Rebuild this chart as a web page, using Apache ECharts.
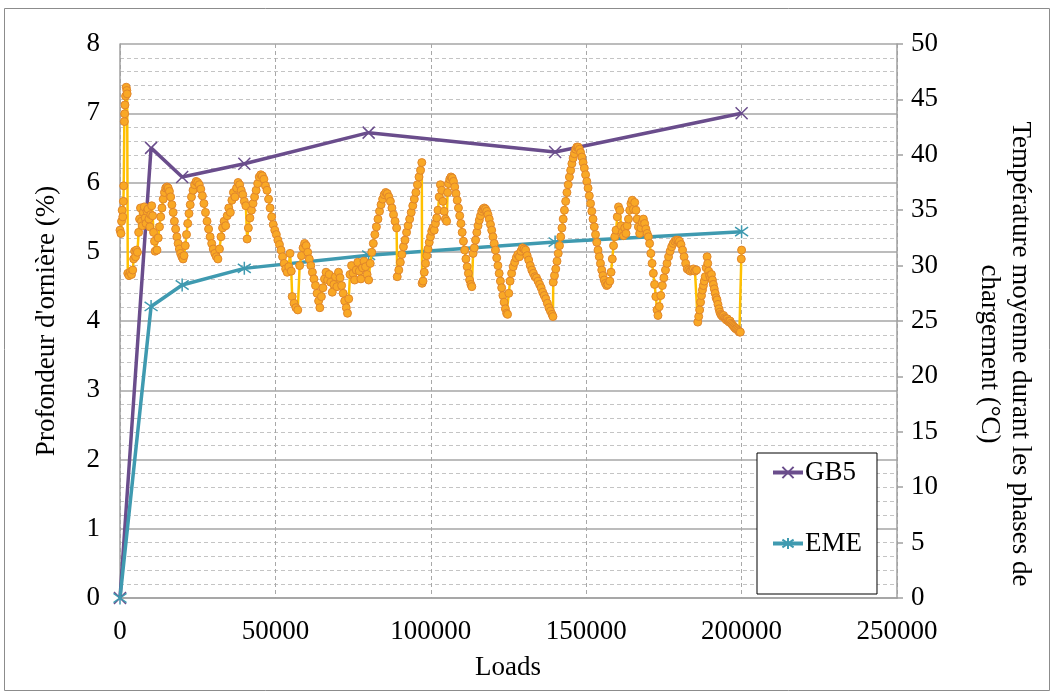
<!DOCTYPE html>
<html>
<head>
<meta charset="utf-8">
<script src="https://cdn.jsdelivr.net/npm/echarts@6/dist/echarts.min.js"></script>
<style>
  html, body { margin: 0; padding: 0; background: #fff; }
  #chart { width: 1052px; height: 695px; }
</style>
</head>
<body>
<div id="chart"></div>
<script>
// loads at which rut depth was measured
const rutLoads = [0, 10000, 20000, 40000, 80000, 140000, 200000];
const gb5Values = [0, 6.5, 6.08, 6.27, 6.72, 6.44, 7.0];
const emeValues = [0, 4.21, 4.52, 4.76, 4.95, 5.14, 5.29];

// mean temperature during loading phases, [loads, °C]
const tempPoints = [
  [0,33.2],[300,32.9],[500,34.0],[700,35.0],[900,34.4],[1100,35.8],[1200,37.2],[1400,43.0],[1500,43.7],[1600,44.5],[1800,45.3],[2000,46.1],[2200,45.8],[2300,45.5],
  [2500,29.3],[2900,29.1],[3300,29.4],[3700,29.2],[4100,29.6],[4400,30.6],[4700,31.3],[5000,30.8],[5300,31.4],[5600,31.2],
  [6000,33.0],[6300,34.2],[6600,35.2],[6900,34.0],[7200,33.6],[7500,34.8],[7800,35.3],[8100,34.3],[8400,33.8],[8700,34.9],[9000,35.1],[9300,34.2],[9600,33.5],[9900,34.6],[10200,35.4],[10500,34.5],[10800,33.0],[11100,32.2],[11300,31.3],
  [11900,31.4],[12300,32.5],[12700,33.5],[13100,34.4],[13500,35.2],[13900,36.0],[14300,36.6],[14700,37.0],[15100,37.1],[15500,37.0],[15900,36.7],
  [16300,36.2],[16700,35.5],[17100,34.8],[17500,34.0],[17900,33.3],[18300,32.6],[18700,32.0],[19100,31.5],[19500,31.1],[19900,30.8],[20300,30.6],[20600,30.9],
  [21000,31.8],[21400,32.8],[21800,33.8],[22200,34.7],[22600,35.5],[23000,36.2],[23500,36.8],[24000,37.3],[24500,37.6],[25000,37.5],[25500,37.3],
  [26000,36.9],[26500,36.3],[27000,35.6],[27500,34.8],[28000,34.0],[28500,33.3],[29000,32.6],[29500,32.0],[30000,31.5],[30500,31.1],[31000,30.8],[31500,30.6],
  [32000,31.5],[32500,32.6],[33000,33.4],[33500,34.0],[34000,33.6],[34500,34.5],[35000,35.2],[35500,34.8],[36000,35.9],[36500,36.6],[37000,36.2],[37500,37.0],[38000,37.5],[38500,37.3],
  [39000,36.8],[39500,36.4],[40000,35.8],[40500,35.4],[40900,32.4],
  [41300,33.4],[41800,34.3],[42300,35.0],[42800,35.6],[43300,36.2],[43800,36.8],[44300,37.4],[44800,38.0],[45300,38.2],[45800,38.1],[46300,37.8],[46800,37.2],
  [47300,36.8],[47800,36.0],[48300,35.2],[48800,34.4],[49300,33.7],[49800,33.2],[50300,32.8],[50800,32.3],[51300,31.9],[51800,31.4],[52300,30.8],
  [52800,30.2],[53300,29.7],[53800,29.4],[54300,29.9],[54700,31.1],[55100,29.5],[55400,27.2],[56000,26.6],[56600,26.2],[57200,26.0],
  [57800,30.0],[58400,30.9],[58900,31.6],[59400,32.0],[59900,31.8],[60400,31.2],
  [60900,30.6],[61400,30.0],[61900,29.4],[62400,28.8],[62900,28.2],[63400,27.5],[63900,26.8],[64300,26.2],
  [64800,27.2],[65300,28.0],[65800,28.8],[66300,29.4],[66800,28.7],[67300,29.2],[67800,28.5],
  [68300,27.6],[68800,28.3],[69300,29.0],[69800,28.1],[70300,29.4],
  [70800,28.9],[71300,28.2],[71800,27.5],[72300,26.8],[72800,26.2],[73200,25.7],[73600,27.0],
  [74000,29.2],[74500,30.0],[75000,29.3],[75500,28.7],[76000,29.6],[76500,30.3],[77000,29.5],[77500,28.8],[78000,29.8],[78500,30.4],[79000,29.9],[79500,29.2],
  [80000,28.7],[80500,30.2],[81000,31.2],[81500,32.0],[82000,32.8],[82500,33.5],[83000,34.2],[83500,34.9],[84000,35.5],[84500,36.0],[85000,36.4],[85500,36.6],[86000,36.5],
  [86500,36.2],[87000,35.8],[87500,35.2],[88000,34.6],[88500,34.0],[89000,33.4],[89200,29.0],
  [89700,29.6],[90200,30.3],[90700,31.0],[91200,31.7],[91700,32.3],[92200,33.0],[92700,33.6],[93200,34.2],[93700,34.8],[94200,35.4],[94700,36.0],[95200,36.6],[95700,37.3],[96200,38.0],[96700,38.6],[97100,39.3],
  [97200,28.4],
  [97500,28.6],[97900,29.4],[98300,30.2],[98700,30.9],[99100,31.5],[99500,32.1],[99900,32.6],[100300,33.1],[100700,33.4],[101100,33.2],[101500,33.8],[101900,34.3],
  [102300,35.0],[102700,36.2],[103100,37.3],[103500,36.8],[103900,35.8],[104300,34.9],[104700,34.2],[105100,34.0],[105400,36.6],
  [105700,37.4],[106100,37.8],[106500,38.0],[106900,37.9],[107300,37.6],
  [107700,37.1],[108100,36.5],[108500,35.9],[108900,35.2],[109300,34.5],[109700,33.8],[110100,33.0],[110500,32.2],[110900,31.4],[111300,30.6],[111700,29.9],[112100,29.3],[112500,28.7],[112900,28.3],[113200,28.1],
  [113600,31.1],[114000,31.6],[114400,32.3],[114800,33.0],[115200,33.6],[115600,34.1],[116000,34.5],[116400,34.9],[116800,35.1],[117200,35.2],[117600,35.1],
  [118000,34.9],[118400,34.6],[118800,34.2],[119200,33.7],[119600,33.2],[120000,32.6],[120400,32.0],[120800,31.4],[121200,30.7],[121600,30.0],[122000,29.3],[122400,28.6],[122800,28.0],[123200,27.3],[123600,26.7],[124000,26.1],[124400,25.7],[124700,25.6],
  [125100,27.5],[125500,28.6],[126000,29.3],[126500,29.9],[127000,30.3],[127500,30.7],[128000,31.0],[128500,30.8],[129000,31.3],[129500,31.6],[130000,31.5],[130500,31.4],
  [131000,30.9],[131500,30.5],[132000,30.0],[132500,29.6],[133000,29.3],[133500,29.0],[134000,28.9],[134500,28.6],[135000,28.3],[135500,28.0],[136000,27.6],[136500,27.3],[137000,27.0],[137500,26.6],[138000,26.2],[138500,25.9],[139000,25.6],[139300,25.4],
  [139400,28.5],[139800,29.1],[140200,29.7],[140600,30.4],[141000,31.1],[141400,31.8],[141800,32.6],[142200,33.4],[142600,34.2],[143000,35.0],[143400,35.8],[143800,36.6],[144200,37.3],[144600,38.0],[145000,38.6],[145400,39.2],[145800,39.7],[146200,40.1],[146600,40.5],[147000,40.7],[147400,40.7],[147800,40.5],
  [148200,40.2],[148600,39.8],[149000,39.3],[149400,38.8],[149800,38.2],[150200,37.6],[150600,37.0],[151000,36.3],[151400,35.6],[151800,34.9],[152200,34.2],[152600,33.5],[153000,32.8],[153400,32.1],[153800,31.4],[154200,30.8],[154600,30.2],[155000,29.6],[155400,29.1],[155800,28.7],[156200,28.4],[156600,28.2],[157000,28.3],
  [157600,28.6],[158000,29.4],[158400,30.6],[158800,31.8],[159200,32.6],[159600,33.2],
  [160000,34.4],[160400,35.3],[160800,35.0],[161200,33.6],
  [161600,33.0],[162000,32.7],[162400,33.4],[162800,32.9],[163200,33.6],[163600,34.2],[164000,35.0],[164400,35.6],[164800,35.9],[165200,35.1],[165600,35.7],[166000,35.0],
  [166400,34.2],[166800,33.5],[167200,32.9],[167600,33.4],[168000,33.9],[168400,34.2],[168800,33.8],[169200,33.3],[169600,32.9],[170000,32.6],
  [170400,32.0],[170800,31.1],[171200,30.2],[171600,29.3],[172000,28.3],[172400,27.2],[172800,26.0],[173100,25.5],
  [173500,26.3],[174000,27.3],[174500,28.2],[175000,28.9],[175500,29.6],[176000,30.2],[176500,30.8],[177000,31.3],[177500,31.7],[178000,32.0],[178500,32.2],[179000,32.3],[179500,32.3],[180000,32.2],[180500,31.9],
  [181000,31.4],[181500,30.8],[182000,30.2],[182500,29.7],[183000,29.6],[183500,29.5],[184000,29.6],[184500,29.7],[185000,29.5],[185500,29.6],
  [185900,24.9],
  [186200,25.4],[186500,26.0],[186800,26.7],[187100,27.3],[187400,27.8],[187700,28.2],[188000,28.6],[188300,29.0],[188600,29.8],[188900,30.8],[189100,30.2],
  [189400,29.5],[189700,29.1],[190000,28.9],[190300,29.2],[190600,28.7],[190900,28.3],[191200,27.9],[191500,27.5],[191800,27.1],[192100,26.9],
  [192400,26.5],[192700,26.1],[193000,25.8],[193300,25.6],[193600,25.5],[193900,25.4],[194200,25.5],[194500,25.3],[194800,25.2],[195100,25.1],
  [195400,25.2],[195700,25.0],[196000,24.9],[196300,25.0],[196600,24.8],[196900,24.7],[197200,24.6],[197500,24.5],[197800,24.4],[198100,24.3],[198400,24.3],[198700,24.2],[199000,24.1],[199300,24.0],[199600,24.0],
  [199900,30.6],[200000,31.4]
];

const FONT = "'Liberation Serif', 'DejaVu Serif', serif";
const CROSS = "path://M0,0L10,10M10,0L0,10";
const STAR = "path://M5,0L5,10M0.7,1.5L9.3,8.5M9.3,1.5L0.7,8.5";

const chart = echarts.init(document.getElementById("chart"));

chart.setOption({
  animation: false,
  grid: { left: 120, right: 155, top: 44, bottom: 97 },
  legend: {
    data: ["GB5", "EME"],
    orient: "vertical",
    left: 757,
    top: 453,
    padding: [6, 15, 37, 14],
    itemGap: 44,
    itemWidth: 30,
    itemHeight: 14,
    backgroundColor: "#fff",
    borderColor: "#000",
    borderWidth: 1,
    borderRadius: 0,
    lineStyle: { width: 4 },
    textStyle: { fontFamily: FONT, fontSize: 27, color: "#000", padding: [0, 0, 0, -3] }
  },
  xAxis: {
    type: "value",
    min: 0,
    max: 250000,
    interval: 50000,
    axisLine: { lineStyle: { color: "#a0a0a0", width: 1.5 } },
    axisTick: { show: false },
    axisLabel: { fontFamily: FONT, fontSize: 27, color: "#000", margin: 20, formatter: v => String(v) },
    splitLine: { show: true, lineStyle: { color: "#a8a8a8", type: [4, 3], width: 1 } }
  },
  yAxis: [
    {
      type: "value",
      min: 0,
      max: 8,
      interval: 1,
      axisLine: { show: true, lineStyle: { color: "#a0a0a0", width: 1.5 } },
      axisTick: { show: false },
      axisLabel: { fontFamily: FONT, fontSize: 27, color: "#000", margin: 20 },
      splitLine: { show: true, lineStyle: { color: "#a6a6a6", width: 1.5 } },
      minorTick: { show: false, splitNumber: 5 },
      minorSplitLine: { show: true, lineStyle: { color: "#c4c4c4", type: [4, 3], width: 1 } }
    },
    {
      type: "value",
      min: 0,
      max: 50,
      interval: 5,
      position: "right",
      axisLine: { show: true, lineStyle: { color: "#a0a0a0", width: 1.5 } },
      axisTick: { show: true, inside: false, length: 6, lineStyle: { color: "#a0a0a0", width: 1.5 } },
      axisLabel: { fontFamily: FONT, fontSize: 27, color: "#000", margin: 14 },
      splitLine: { show: false }
    }
  ],
  graphic: [
    {
      type: "rect",
      shape: { x: 4.5, y: 8.5, width: 1045, height: 682 },
      style: { fill: "none", stroke: "#8c8c8c", lineWidth: 1 },
      z: -10
    },
    {
      type: "text",
      x: 47, y: 321,
      rotation: Math.PI / 2,
      style: { text: "Profondeur d'ornière (%)", fontFamily: FONT, fontSize: 27, fill: "#000", align: "center", verticalAlign: "middle" }
    },
    {
      type: "text",
      x: 1005, y: 354,
      rotation: -Math.PI / 2,
      style: { text: "Température moyenne durant les phases de\nchargement (°C)", fontFamily: FONT, fontSize: 27, lineHeight: 31, fill: "#000", align: "center", verticalAlign: "middle" }
    },
    {
      type: "text",
      x: 508, y: 668,
      style: { text: "Loads", fontFamily: FONT, fontSize: 27, fill: "#000", align: "center", verticalAlign: "middle" }
    }
  ],
  series: [
    {
      name: "GB5",
      type: "line",
      data: rutLoads.map((x, i) => [x, gb5Values[i]]),
      symbol: CROSS,
      symbolSize: 12,
      lineStyle: { color: "#6a4d8c", width: 3.5 },
      itemStyle: { color: "#6a4d8c", borderColor: "#6a4d8c", borderWidth: 1.5 },
      z: 3
    },
    {
      name: "EME",
      type: "line",
      data: rutLoads.map((x, i) => [x, emeValues[i]]),
      symbol: STAR,
      symbolSize: 13,
      lineStyle: { color: "#3f9ab0", width: 3.5 },
      itemStyle: { color: "#3f9ab0", borderColor: "#3f9ab0", borderWidth: 1.5 },
      z: 3
    },
    {
      name: "Température",
      type: "line",
      yAxisIndex: 1,
      data: tempPoints,
      showAllSymbol: true,
      symbol: "circle",
      symbolSize: 8,
      lineStyle: { color: "#ffc000", width: 2.5 },
      itemStyle: { color: "#f9a825", borderColor: "#e0862b", borderWidth: 1 },
      z: 4
    }
  ]
});
</script>
</body>
</html>
